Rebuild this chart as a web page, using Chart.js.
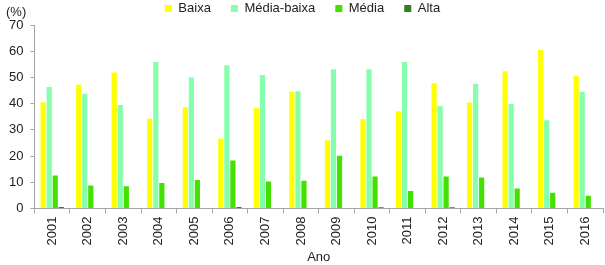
<!DOCTYPE html>
<html>
<head>
<meta charset="utf-8">
<script src="https://cdn.jsdelivr.net/npm/chart.js@4.4.0/dist/chart.umd.min.js"></script>
<style>
  html, body { margin: 0; padding: 0; background: #fff; }
  #wrap { width: 605px; height: 265px; position: relative; }
</style>
</head>
<body>
<div id="wrap"><canvas id="chart"></canvas></div>
<script>
// data
const years = ['2001', '2002', '2003', '2004', '2005', '2006', '2007', '2008',
               '2009', '2010', '2011', '2012', '2013', '2014', '2015', '2016'];
const baixa = [40.5, 47.2, 51.9, 34.2, 38.6, 26.7, 38.3, 44.5, 26.0, 34.0, 37.1, 47.8, 40.4, 52.4, 60.5, 50.6];
const mediaBaixa = [46.3, 43.8, 39.5, 55.9, 50.0, 54.6, 50.9, 44.7, 53.1, 53.1, 55.9, 39.1, 47.6, 39.9, 33.7, 44.5];
const media = [12.6, 8.8, 8.5, 9.7, 10.9, 18.3, 10.3, 10.6, 20.1, 12.2, 6.7, 12.2, 11.8, 7.6, 6.0, 4.9];
const alta = [0.6, 0, 0, 0, 0, 0.6, 0, 0, 0, 0.5, 0, 0.5, 0, 0, 0, 0];
const yTicks = [0, 10, 20, 30, 40, 50, 60, 70];

const FONT = "'Liberation Sans', Arial, sans-serif";
const TEXT = '#222';
const AXIS = '#a6a6a6';

// "(%)" unit label above the y axis
const unitLabel = {
    id: 'unitLabel',
    afterDraw(chart) {
        const c = chart.ctx;
        c.save();
        c.font = '13px ' + FONT;
        c.fillStyle = TEXT;
        c.textBaseline = 'middle';
        c.textAlign = 'left';
        c.fillText('(%)', 6, 12);
        c.restore();
    }
};

function createChart() {
    const ctx = document.getElementById('chart');
    if (!ctx) return;

    new Chart(ctx, {
        type: 'bar',
        data: {
            labels: years,
            datasets: [
                { label: 'Baixa', data: baixa, backgroundColor: '#ffff00' },
                { label: 'Média-baixa', data: mediaBaixa, backgroundColor: '#86ffac' },
                { label: 'Média', data: media, backgroundColor: '#44e000' },
                { label: 'Alta', data: alta, backgroundColor: '#2f7f1f' }
            ]
        },
        options: {
            responsive: true,
            maintainAspectRatio: false,
            animation: false,
            devicePixelRatio: 1,
            layout: { padding: { left: 2, right: 2, top: 0, bottom: 0 } },
            datasets: {
                bar: { categoryPercentage: 0.68, barPercentage: 0.86 }
            },
            plugins: {
                tooltip: { enabled: false },
                legend: {
                    position: 'top',
                    labels: {
                        boxWidth: 7,
                        boxHeight: 7,
                        padding: 2,
                        color: TEXT,
                        font: { family: FONT, size: 13 },
                        generateLabels(chart) {
                            const items = Chart.defaults.plugins.legend.labels.generateLabels(chart);
                            items.forEach((it, i) => {
                                if (i < items.length - 1) it.text = it.text + '     ';
                                it.lineWidth = 0;
                            });
                            return items;
                        }
                    }
                }
            },
            scales: {
                x: {
                    offset: true,
                    border: { color: AXIS },
                    grid: {
                        offset: true,
                        drawOnChartArea: false,
                        drawTicks: true,
                        tickLength: 5,
                        color: AXIS
                    },
                    ticks: {
                        color: TEXT,
                        font: { family: FONT, size: 13 },
                        minRotation: 90,
                        maxRotation: 90,
                        padding: 3,
                        autoSkip: false
                    },
                    title: {
                        display: true,
                        text: 'Ano',
                        color: TEXT,
                        font: { family: FONT, size: 13 },
                        padding: { top: 1, bottom: 0 }
                    }
                },
                y: {
                    min: yTicks[0],
                    max: yTicks[yTicks.length - 1],
                    border: { color: AXIS },
                    grid: {
                        drawOnChartArea: false,
                        drawTicks: true,
                        tickLength: 4,
                        color: AXIS
                    },
                    afterBuildTicks(scale) {
                        scale.ticks = yTicks.map(v => ({ value: v }));
                    },
                    ticks: {
                        color: TEXT,
                        font: { family: FONT, size: 13 },
                        padding: 7
                    }
                }
            }
        },
        plugins: [unitLabel]
    });
}

document.addEventListener('DOMContentLoaded', () => {
    createChart();
});
</script>
</body>
</html>
